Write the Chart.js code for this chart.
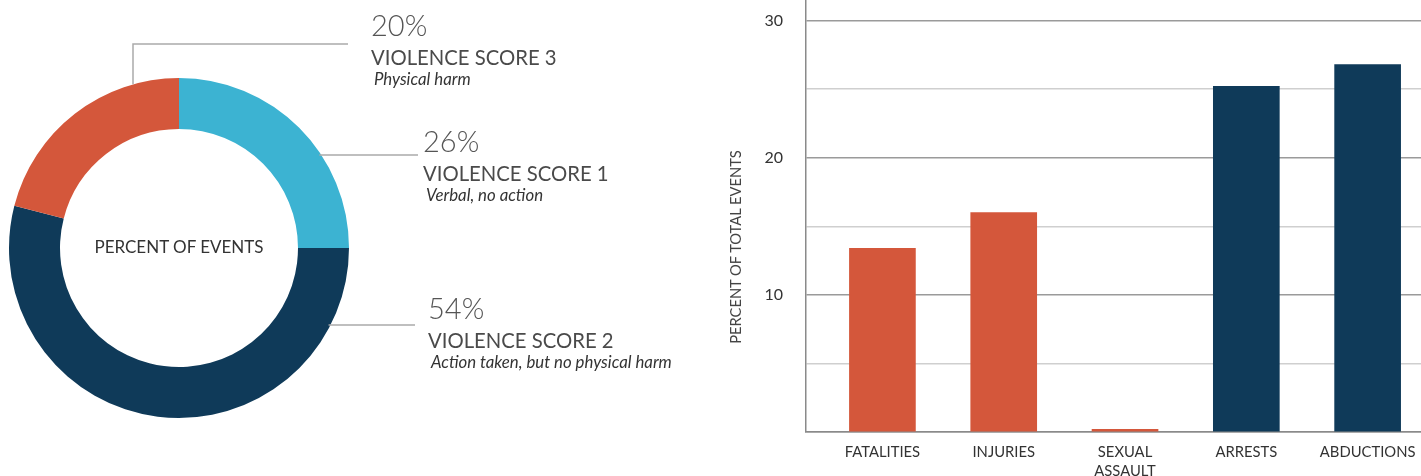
<!DOCTYPE html>
<html>
<head>
<meta charset="utf-8">
<script src="https://cdn.jsdelivr.net/npm/chart.js@4/dist/chart.umd.min.js"></script>
<style>
  html, body { margin: 0; padding: 0; background: #fff; }
  body { width: 1421px; height: 476px; position: relative; overflow: hidden; font-family: 'Lato', 'Open Sans', sans-serif; }
  #donut-wrap { position: absolute; left: 0; top: 0; width: 700px; height: 476px; }
  #bar-wrap { position: absolute; left: 720px; top: 0; width: 701px; height: 476px; }
  .note { position: absolute; white-space: nowrap; line-height: 1; }
  .pct { font-weight: 300; color: #555; }
  .lbl { color: #4a4a4a; }
  .sub { font-style: italic; color: #333; }
  #center-lbl { position: absolute; left: 9px; width: 340px; top: 238px; text-align: center; font-size: 17px; color: #333; line-height: 1; }
  #y-title { position: absolute; left: 735px; top: 247px; width: 300px; margin-left: -150px; margin-top: -8px;
             text-align: center; line-height: 16px; font-size: 14.7px; color: #444; white-space: nowrap;
             transform: rotate(-90deg); }
</style>
</head>
<body>
<div id="donut-wrap"><canvas id="c-donut"></canvas></div>
<div id="center-lbl">PERCENT OF EVENTS</div>
<div id="bar-wrap"><canvas id="c-bar"></canvas></div>
<div id="y-title">PERCENT OF TOTAL EVENTS</div>
<div id="notes"></div>

<script>
/* ─── Data ─── */
const SCORE_LABELS = ['VIOLENCE SCORE 1', 'VIOLENCE SCORE 2', 'VIOLENCE SCORE 3'];
const SCORE_PCT    = ['26%', '54%', '20%'];          // printed labels
const SCORE_ARCS   = [25, 54, 21];                   // arc sizes as drawn
const SCORE_NOTES  = ['Verbal, no action', 'Action taken, but no physical harm', 'Physical harm'];

const BAR_CATEGORIES = ['FATALITIES', 'INJURIES', ['SEXUAL', 'ASSAULT'], 'ARRESTS', 'ABDUCTIONS'];
const BAR_VALUES     = [13.4, 16.0, 0.2, 25.2, 26.8];
const Y_LABELLED     = [10, 20, 30];

/* ─── Styles ─── */
const TEAL = '#3cb3d2', NAVY = '#0f3a59', ORANGE = '#d4573b';
const SCORE_COLORS = [TEAL, NAVY, ORANGE];
const BAR_COLORS = [ORANGE, ORANGE, ORANGE, NAVY, NAVY];
const LEADER = '#aaaaaa';

/* annotation block anchors (x, caps-centre of the % line) */
const NOTE_POS = [
  { x: 423, y: 141, lineY: 155, lineEnd: 418 },
  { x: 428, y: 308, lineY: 325, lineEnd: 415 },
  { x: 371, y: 25,  lineX: 133, lineY: 44, lineEnd: 348 },
];

function place(txt, cls, x, cy, size) {
  const d = document.createElement('div');
  d.className = 'note ' + cls;
  d.textContent = txt;
  d.style.fontSize = size + 'px';
  d.style.left = x + 'px';
  d.style.top = (cy - 0.53 * size) + 'px';
  document.getElementById('notes').appendChild(d);
}

SCORE_PCT.forEach((t, i) => {
  const p = NOTE_POS[i];
  place(t, 'pct', p.x, p.y, 29);
  place(SCORE_LABELS[i], 'lbl', p.x, p.y + 33, 20.3);
  place(SCORE_NOTES[i], 'sub', p.x + 3, p.y + 55, 16.8);
});

/* ─── Leader lines for donut ─── */
const leaderPlugin = {
  id: 'leaders',
  afterDraw(chart) {
    const arc = chart.getDatasetMeta(0).data[0];
    if (!arc) return;
    const { x: cx, y: cy, outerRadius: r } = arc;
    const ctx = chart.ctx;
    ctx.save();
    ctx.strokeStyle = LEADER;
    ctx.lineWidth = 1.5;
    NOTE_POS.forEach(p => {
      ctx.beginPath();
      if (p.lineX !== undefined) {
        const dx = p.lineX - cx;
        const y0 = cy - Math.sqrt(r * r - dx * dx);
        ctx.moveTo(p.lineX, y0);
        ctx.lineTo(p.lineX, p.lineY);
        ctx.lineTo(p.lineEnd, p.lineY);
      } else {
        const dy = p.lineY - cy;
        const x0 = cx + Math.sqrt(r * r - dy * dy);
        ctx.moveTo(x0 - 2, p.lineY);
        ctx.lineTo(p.lineEnd, p.lineY);
      }
      ctx.stroke();
    });
    ctx.restore();
  }
};

new Chart(document.getElementById('c-donut'), {
  type: 'doughnut',
  data: {
    labels: SCORE_LABELS,
    datasets: [{ data: SCORE_ARCS, backgroundColor: SCORE_COLORS, borderWidth: 0 }]
  },
  options: {
    responsive: true, maintainAspectRatio: false, animation: false,
    cutout: '70%',
    layout: { padding: { left: 9, top: 78, right: 351, bottom: 58 } },
    plugins: { legend: { display: false }, tooltip: { enabled: false } },
    events: []
  },
  plugins: [leaderPlugin]
});

/* ─── Bar chart ─── */
const gridCol = v => (v % 10 === 0 ? '#9a9a9a' : (v % 5 === 0 ? '#cfcfcf' : 'rgba(0,0,0,0)'));

new Chart(document.getElementById('c-bar'), {
  type: 'bar',
  data: {
    datasets: [{
      data: BAR_VALUES.map((v, i) => ({ x: i, y: v })),
      backgroundColor: BAR_COLORS,
      barThickness: 66,
      borderWidth: 0
    }]
  },
  options: {
    responsive: true, maintainAspectRatio: false, animation: false,
    layout: { padding: 0 },
    plugins: { legend: { display: false }, tooltip: { enabled: false } },
    events: [],
    scales: {
      x: {
        type: 'linear', min: -0.63, max: 4.44, offset: false,
        afterFit: s => { s.height = 44; s.paddingLeft = 0; s.paddingRight = 0; },
        grid: { display: false, drawTicks: false },
        border: { display: true, color: '#8a8a8a', width: 1.5 },
        ticks: {
          stepSize: 1, autoSkip: false, maxRotation: 0, includeBounds: false,
          padding: 11, color: '#333',
          font: { family: 'Lato', size: 14.8, lineHeight: 1.25 },
          callback: v => (Number.isInteger(v) && BAR_CATEGORIES[v] !== undefined ? BAR_CATEGORIES[v] : '')
        }
      },
      y: {
        min: 0, max: 31.5,
        afterFit: s => { s.width = 86; s.paddingTop = 0; s.paddingBottom = 0; },
        grid: {
          color: c => gridCol(c.tick.value),
          lineWidth: 1.5, drawTicks: false
        },
        border: { display: true, color: '#8a8a8a', width: 1.5 },
        ticks: {
          stepSize: 5, padding: 23, color: '#333', includeBounds: false,
          font: { family: 'Lato', size: 16 },
          callback: v => (Y_LABELLED.includes(v) ? v : '')
        }
      }
    }
  }
});
</script>
</body>
</html>
